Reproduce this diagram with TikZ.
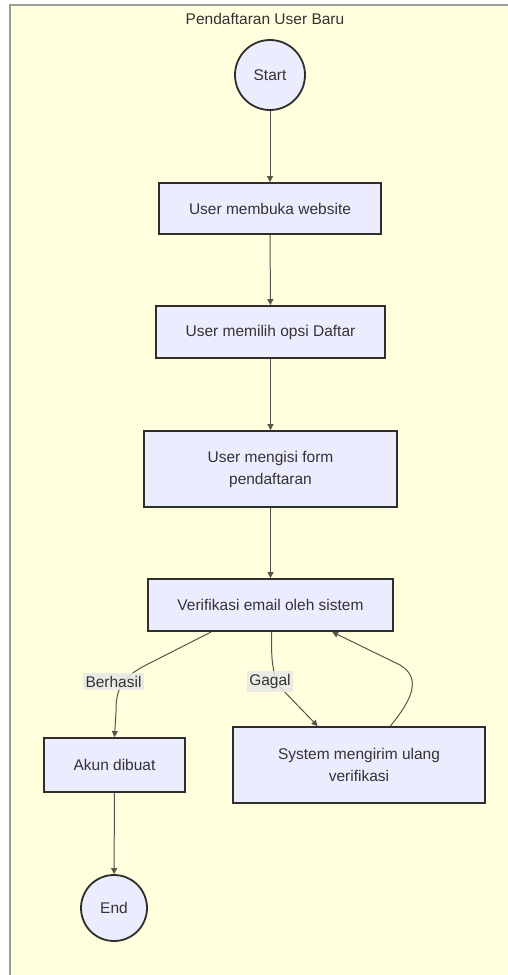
\documentclass[tikz,border=0pt]{standalone}
\usepackage{fontspec}
\setmainfont{Liberation Sans}
\usetikzlibrary{arrows.meta,calc}
\definecolor{clusterfill}{HTML}{FFFFDE}
\definecolor{clusterline}{HTML}{9E9E90}
\definecolor{nodefill}{HTML}{ECECFF}
\definecolor{nodeline}{HTML}{2E2E2E}
\definecolor{edgeline}{HTML}{55554A}
\definecolor{txt}{HTML}{333333}
\definecolor{lblfill}{HTML}{E8E8E8}
\tikzset{
  every node/.style={font=\fontsize{15.5}{22}\selectfont, text=txt},
  procbox/.style={draw=nodeline, line width=1.8pt, fill=nodefill, rectangle, align=center, inner sep=0pt},
  termnode/.style={draw=nodeline, line width=1.8pt, fill=nodefill, circle, inner sep=0pt},
  edge/.style={draw=edgeline, line width=1pt, -{Triangle[length=6pt,width=6pt]}},
  elabel/.style={fill=lblfill, fill opacity=0.85, text opacity=1, inner xsep=2.5pt, inner ysep=3pt}
}
\begin{document}
\begin{tikzpicture}[x=1pt,y=-1pt]
\useasboundingbox (0,0) rectangle (507,975);
\fill[white] (0,0) rectangle (507,975);
\draw[fill=clusterfill, draw=clusterline, line width=1.5pt] (10,5) rectangle (560,1010);
\node (title) at (265,19) {Pendaftaran User Baru};

\node[termnode, minimum size=70pt] (start) at (270,75) {Start};
\node[procbox, minimum width=222pt, minimum height=51pt] (b1) at (270,208.5) {User membuka website};
\node[procbox, minimum width=229pt, minimum height=52pt] (b2) at (270.5,332) {User memilih opsi Daftar};
\node[procbox, minimum width=253pt, minimum height=76pt] (b3) at (270.5,469) {User mengisi form\\pendaftaran};
\node[procbox, minimum width=245pt, minimum height=52pt] (b4) at (270.5,605) {Verifikasi email oleh sistem};
\node[procbox, minimum width=141pt, minimum height=54pt] (akun) at (114.5,765) {Akun dibuat};
\node[procbox, minimum width=252pt, minimum height=76pt] (sys) at (359,765) {System mengirim ulang\\verifikasi};
\node[termnode, minimum size=66pt] (end) at (114,908) {End};

\draw[edge] (start) -- (b1);
\draw[edge] (b1) -- (b2);
\draw[edge] (b2) -- (b3);
\draw[edge] (b3) -- (b4);
\draw[edge] (akun) -- (end);

% Berhasil
\coordinate (bA) at ($(b4.south west)!0.26!(b4.south east)$);
\draw[edge] (bA) -- (148,664) .. controls (120,678) and (116,690) .. (116,712) -- (akun.north);
\node[elabel] (lb) at (113.5,681.5) {Berhasil};

% Gagal
\coordinate (gA) at ($(b4.south west)!0.505!(b4.south east)$);
\coordinate (gB) at ($(sys.north west)!0.337!(sys.north east)$);
\draw[edge] (gA) .. controls (271,655) and (272,670) .. (278,685) -- (gB);
\node[elabel] (lg) at (270,681.5) {Gagal};

% retry
\coordinate (rA) at ($(sys.north west)!0.623!(sys.north east)$);
\coordinate (rB) at ($(b4.south west)!0.75!(b4.south east)$);
\draw[edge] (rA) .. controls (412,700) and (422,678) .. (400,665) -- (rB);
\end{tikzpicture}
\end{document}
